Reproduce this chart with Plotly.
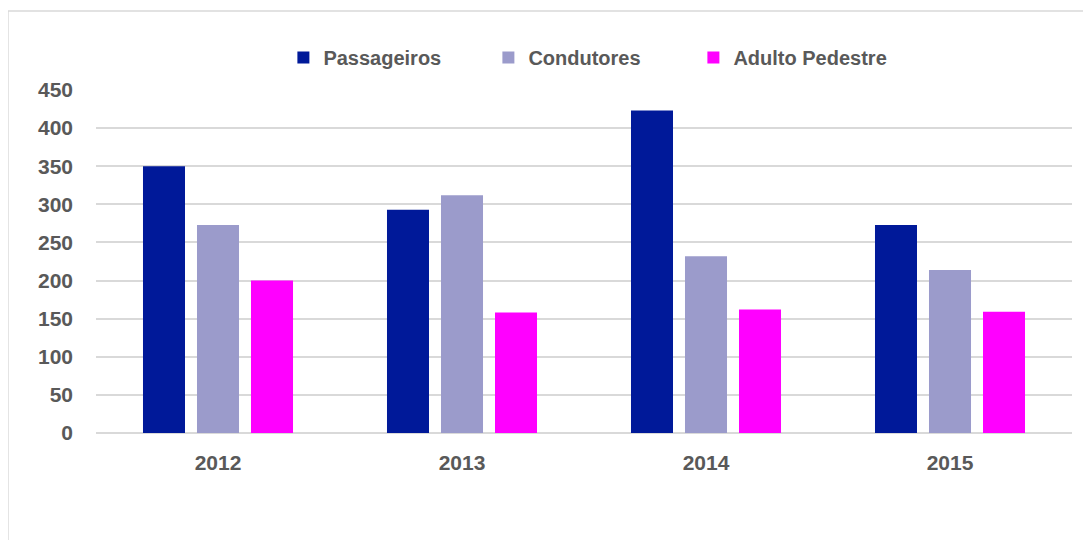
import plotly.graph_objects as go

years = ["2012", "2013", "2014", "2015"]
passageiros = [350, 293, 423, 273]
condutores = [273, 312, 232, 214]
adulto_pedestre = [200, 158, 162, 159]
y_ticks = [0, 50, 100, 150, 200, 250, 300, 350, 400, 450]

series = [
    ("Passageiros", passageiros, "#001999"),
    ("Condutores", condutores, "#9B9BCB"),
    ("Adulto Pedestre", adulto_pedestre, "#FF00FF"),
]

FONT = "Liberation Sans, Arial, sans-serif"
TXT = "#595959"

fig = go.Figure()
for name, vals, col in series:
    fig.add_trace(go.Bar(x=years, y=vals, name=name,
                         marker=dict(color=col, line=dict(width=0))))

fig.update_layout(
    width=1083, height=532,
    margin=dict(l=88, r=19, t=82, b=107),
    paper_bgcolor="white", plot_bgcolor="white",
    barmode="group", bargap=0.336, bargroupgap=0.222,
    font=dict(family=FONT, color=TXT),
    legend=dict(orientation="h", x=0.192, xanchor="left", y=1.095, yanchor="middle",
                font=dict(family=FONT, size=20, color=TXT, weight="bold"),
                entrywidth=160, itemwidth=30),
    showlegend=True,
)
fig.update_xaxes(showgrid=False, showline=False, ticks="",
                 tickfont=dict(family=FONT, size=21, color=TXT, weight="bold"),
                 ticklabelstandoff=15)
fig.update_yaxes(range=[0, 450], tickvals=y_ticks, showgrid=True,
                 gridcolor="#D9D9D9", gridwidth=1.5,
                 zeroline=True, zerolinecolor="#D9D9D9", zerolinewidth=1.5,
                 showline=False, ticks="",
                 tickfont=dict(family=FONT, size=21, color=TXT, weight="bold"),
                 ticklabelstandoff=22)
fig.add_shape(type="rect", xref="paper", yref="paper",
              x0=-0.0902, x1=1.2, y0=-0.6, y1=1.230,
              line=dict(color="#D9D9D9", width=1.5), fillcolor="rgba(0,0,0,0)",
              layer="below")

fig.write_html("out.html")
